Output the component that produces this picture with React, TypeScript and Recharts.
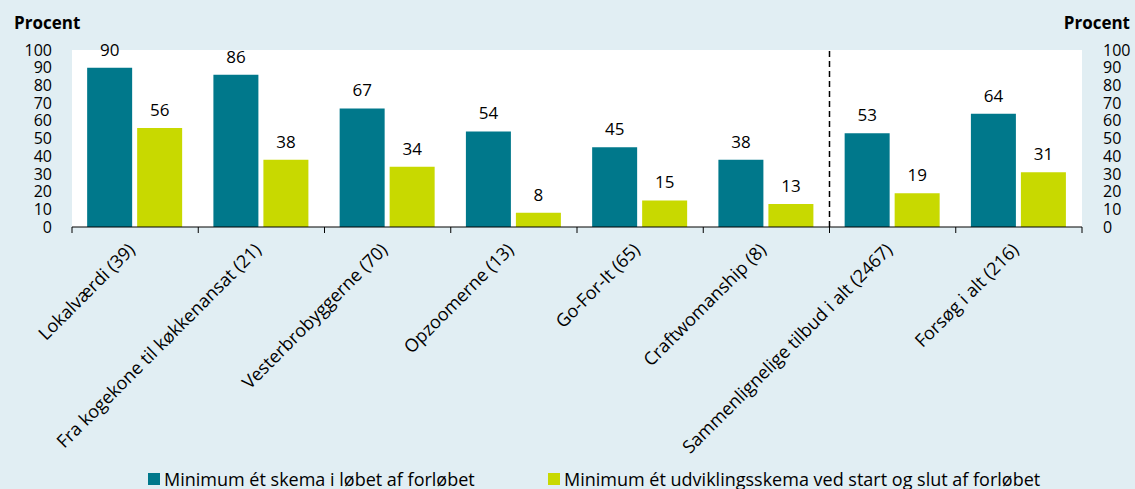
import { ComposedChart, Bar, Line, XAxis, YAxis, LabelList, ReferenceLine } from 'recharts'

const categories = [
  'Lokalværdi (39)',
  'Fra kogekone til køkkenansat (21)',
  'Vesterbrobyggerne (70)',
  'Opzoomerne (13)',
  'Go-For-It (65)',
  'Craftwomanship (8)',
  'Sammenlignelige tilbud i alt (2467)',
  'Forsøg i alt (216)',
]
const skema = [90, 86, 67, 54, 45, 38, 53, 64]
const udvikling = [56, 38, 34, 8, 15, 13, 19, 31]
const yTicks = [0, 10, 20, 30, 40, 50, 60, 70, 80, 90, 100]

const TEAL = '#00788b'
const LIME = '#c8d900'
const BG = '#e1eef3'

const data = categories.map((name, i) => ({ name, skema: skema[i], udvikling: udvikling[i] }))

const PLOT_LEFT = 72
const PLOT_RIGHT = 1082
const BAND = (PLOT_RIGHT - PLOT_LEFT) / categories.length

//TODO: type this
const CategoryTick = ({ x, y, payload, index }: any) => {
  const ax = x + 1
  const ay = y + 16
  const left = x - BAND / 2
  return (
    <g>
      <line x1={left} y1={y - 8} x2={left} y2={y - 2} stroke='#000' />
      {index === categories.length - 1 && (
        <line x1={x + BAND / 2} y1={y - 8} x2={x + BAND / 2} y2={y - 2} stroke='#000' />
      )}
      <text x={ax} y={ay} transform={`rotate(-45, ${ax}, ${ay})`} textAnchor='end' fontSize={18} fill='#000'>
        {payload.value}
      </text>
    </g>
  )
}

const LegendItem = ({ color, label }: { color: string; label: string }) => (
  <span style={{ display: 'inline-flex', alignItems: 'center' }}>
    <span style={{ width: 12, height: 12, background: color, marginRight: 4, display: 'inline-block' }} />
    {label}
  </span>
)

export default function App() {
  return (
    <div
      style={{
        position: 'absolute',
        top: 0,
        left: 0,
        width: 1135,
        height: 489,
        background: BG,
        fontFamily: '"Open Sans", sans-serif',
        color: '#000',
      }}>
      <div style={{ position: 'absolute', left: 14, top: 11, fontWeight: 700, fontSize: 17 }}>Procent</div>
      <div style={{ position: 'absolute', right: 5, top: 11, fontWeight: 700, fontSize: 17 }}>Procent</div>
      <ComposedChart
        width={1135}
        height={489}
        data={data}
        margin={{ top: 50, right: 0, bottom: 0, left: 0 }}
        barCategoryGap='12%'
        barGap={5}>
        <rect x={PLOT_LEFT} y={50} width={PLOT_RIGHT - PLOT_LEFT} height={177} fill='#fff' />
        <XAxis
          dataKey='name'
          height={262}
          interval={0}
          tickLine={false}
          axisLine={{ stroke: '#000' }}
          tick={<CategoryTick />}
        />
        <YAxis
          yAxisId='left'
          width={PLOT_LEFT}
          domain={[0, 100]}
          ticks={yTicks}
          interval={0}
          axisLine={false}
          tickLine={false}
          tickSize={0}
          tickMargin={20}
          tick={{ fill: '#000', fontSize: 16 }}
        />
        <YAxis
          yAxisId='right'
          orientation='right'
          width={1135 - PLOT_RIGHT}
          domain={[0, 100]}
          ticks={yTicks}
          interval={0}
          axisLine={false}
          tickLine={false}
          tickSize={0}
          tickMargin={21}
          tick={{ fill: '#000', fontSize: 16, textAnchor: 'start' }}
        />
        <ReferenceLine
          yAxisId='left'
          x={categories[6]}
          position='start'
          stroke='#000'
          strokeWidth={1.5}
          strokeDasharray='6 4'
        />
        <Bar yAxisId='left' dataKey='skema' fill={TEAL} isAnimationActive={false}>
          <LabelList dataKey='skema' position='top' offset={12} fill='#000' fontSize={17} />
        </Bar>
        <Bar yAxisId='left' dataKey='udvikling' fill={LIME} isAnimationActive={false}>
          <LabelList dataKey='udvikling' position='top' offset={12} fill='#000' fontSize={17} />
        </Bar>
        {/* keeps the right axis alive, draws nothing */}
        <Line
          yAxisId='right'
          dataKey='skema'
          stroke='none'
          dot={false}
          activeDot={false}
          legendType='none'
          isAnimationActive={false}
        />
      </ComposedChart>
      <div style={{ position: 'absolute', left: 148, top: 466, fontSize: 18, whiteSpace: 'nowrap' }}>
        <LegendItem color={TEAL} label='Minimum ét skema i løbet af forløbet' />
      </div>
      <div style={{ position: 'absolute', left: 548, top: 466, fontSize: 18, whiteSpace: 'nowrap' }}>
        <LegendItem color={LIME} label='Minimum ét udviklingsskema ved start og slut af forløbet' />
      </div>
    </div>
  )
}
